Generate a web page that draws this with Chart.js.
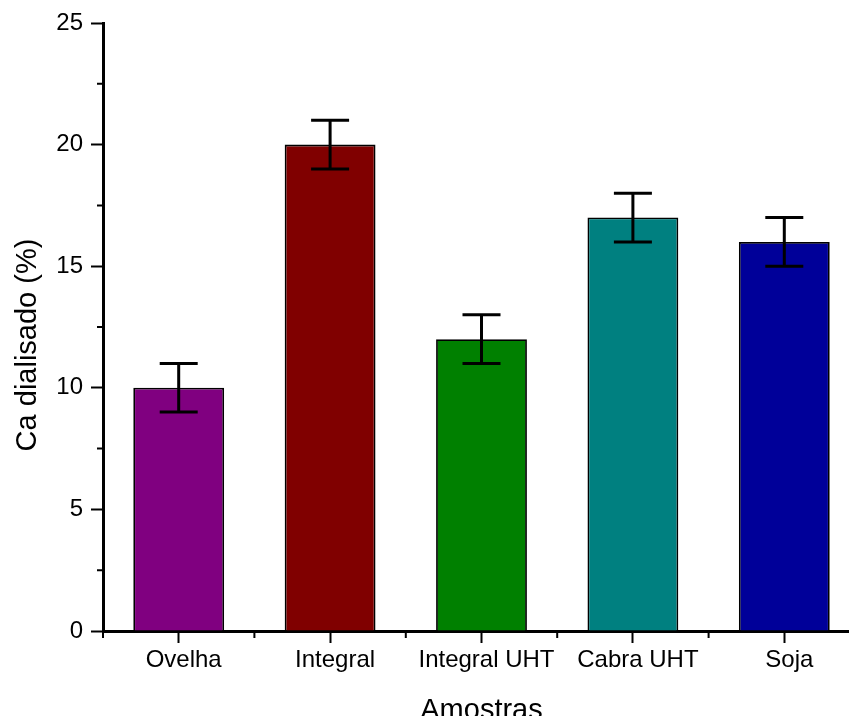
<!DOCTYPE html>
<html>
<head>
<meta charset="utf-8">
<script src="https://cdn.jsdelivr.net/npm/chart.js@4"></script>
<style>
  html, body { margin: 0; padding: 0; overflow: hidden; background: #fff; }
  #wrap { width: 862px; height: 731px; }
</style>
</head>
<body>
<div id="wrap"><canvas id="my-chart"></canvas></div>
<script>
var categories = ['Ovelha', 'Integral', 'Integral UHT', 'Cabra UHT', 'Soja'];
var values = [10, 20, 12, 17, 16];
var errors = [1, 1, 1, 1, 1];
var colors = ['#800080', '#800000', '#008000', '#008080', '#000099'];
var yTicks = [0, 5, 10, 15, 20, 25];
var yMinorTicks = [2.5, 7.5, 12.5, 17.5, 22.5];
var yTitle = 'Ca dialisado (%)';
var xTitle = 'Amostras';

var fontName = '"Liberation Sans", Arial, sans-serif';

// error bars with caps
var errorBars = {
  id: 'errorBars',
  afterDatasetsDraw: function (chart) {
    var ctx = chart.ctx;
    var y = chart.scales.y;
    var meta = chart.getDatasetMeta(0);
    ctx.save();
    ctx.strokeStyle = '#000';
    ctx.lineWidth = 3;
    meta.data.forEach(function (bar, i) {
      var top = y.getPixelForValue(values[i] + errors[i]);
      var bot = y.getPixelForValue(values[i] - errors[i]);
      ctx.beginPath();
      ctx.moveTo(bar.x, top);
      ctx.lineTo(bar.x, bot);
      ctx.moveTo(bar.x - 19, top);
      ctx.lineTo(bar.x + 19, top);
      ctx.moveTo(bar.x - 19, bot);
      ctx.lineTo(bar.x + 19, bot);
      ctx.stroke();
    });
    ctx.restore();
  }
};

// minor ticks on both axes + y title (sits a bit below the axis middle)
var axisExtras = {
  id: 'axisExtras',
  afterDraw: function (chart) {
    var ctx = chart.ctx;
    var x = chart.scales.x;
    var y = chart.scales.y;
    var area = chart.chartArea;
    ctx.save();
    ctx.strokeStyle = '#000';
    ctx.lineWidth = 2;
    ctx.beginPath();
    yMinorTicks.forEach(function (v) {
      var py = y.getPixelForValue(v);
      ctx.moveTo(area.left - 6, py);
      ctx.lineTo(area.left, py);
    });
    var step = x.getPixelForValue(1) - x.getPixelForValue(0);
    for (var k = 0; k <= categories.length; k++) {
      var px = x.getPixelForValue(0) - step / 2 + k * step;
      ctx.moveTo(px, area.bottom);
      ctx.lineTo(px, area.bottom + 7);
    }
    ctx.stroke();

    ctx.translate(y.left + 28, (area.top + area.bottom) / 2 + 18);
    ctx.rotate(-Math.PI / 2);
    ctx.fillStyle = '#000';
    ctx.font = '29px ' + fontName;
    ctx.textAlign = 'center';
    ctx.textBaseline = 'middle';
    ctx.fillText(yTitle, 0, 0);
    ctx.restore();
  }
};

var chart1 = document.getElementById('my-chart').getContext('2d');
var myChart = new Chart(chart1, {
  type: 'bar',
  data: {
    labels: categories,
    datasets: [{
      label: 'Ca dialisado',
      data: values,
      backgroundColor: colors,
      borderColor: '#000',
      borderWidth: 1.8,
      barPercentage: 0.6,
      categoryPercentage: 1
    }]
  },
  options: {
    responsive: true,
    maintainAspectRatio: false,
    animation: false,
    layout: { padding: { top: 23, right: 2, left: 0, bottom: 0 } },
    plugins: {
      legend: { display: false },
      tooltip: { enabled: false }
    },
    scales: {
      x: {
        z: 1,
        offset: true,
        grid: {
          display: true,
          offset: false,
          drawOnChartArea: false,
          drawTicks: true,
          tickLength: 12,
          tickWidth: 2,
          tickColor: '#000'
        },
        border: { display: true, color: '#000', width: 3 },
        ticks: {
          color: '#000',
          padding: 3,
          labelOffset: 5,
          maxRotation: 0,
          font: { family: fontName, size: 24 }
        },
        title: {
          display: true,
          text: xTitle,
          color: '#000',
          padding: { top: 4, bottom: 3 },
          font: { family: fontName, size: 29 }
        },
        afterFit: function (scale) { scale.height = 100; }
      },
      y: {
        min: 0,
        max: 25,
        afterBuildTicks: function (scale) {
          scale.ticks = yTicks.map(function (v) { return { value: v }; });
        },
        grid: {
          display: true,
          drawOnChartArea: false,
          drawTicks: true,
          tickLength: 12,
          tickWidth: 2,
          tickColor: '#000'
        },
        border: { display: true, color: '#000', width: 3 },
        ticks: {
          color: '#000',
          padding: 8,
          font: { family: fontName, size: 24 }
        },
        afterFit: function (scale) { scale.width = 103; }
      }
    }
  },
  plugins: [errorBars, axisExtras]
});
</script>
</body>
</html>
